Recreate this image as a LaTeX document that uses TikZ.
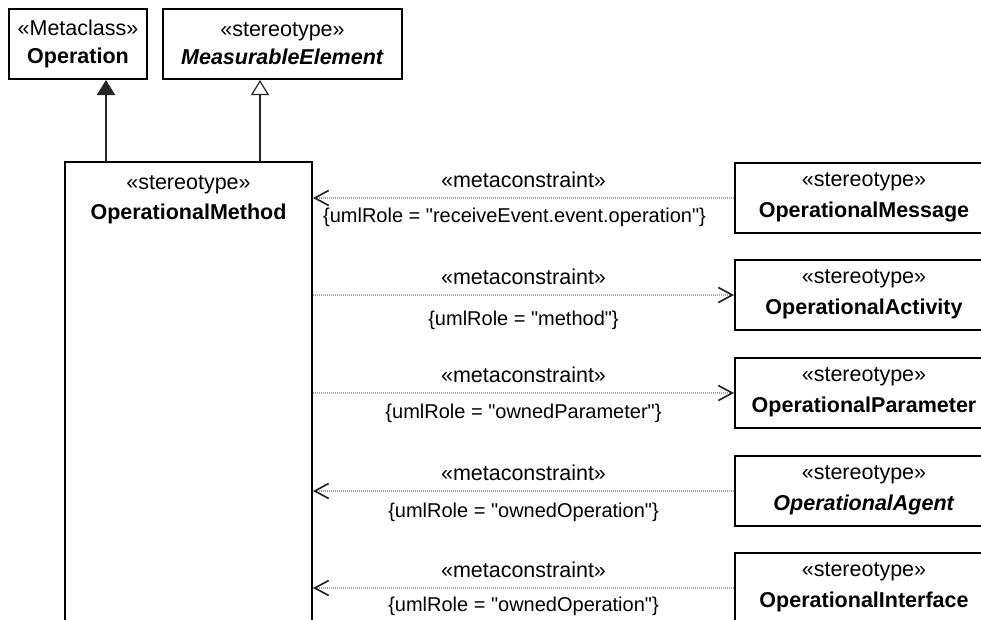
\documentclass[tikz,border=0pt]{standalone}
\usepackage{fontspec}
\setmainfont{Liberation Sans}[Ligatures=TeXOff]
\usetikzlibrary{arrows.meta}
\begin{document}
\begin{tikzpicture}[x=1pt,y=-1pt,
  txt/.style={font=\fontsize{21.5}{28}\selectfont, align=center, inner sep=0pt},
  txtw/.style={font=\fontsize{21.5}{31}\selectfont, align=center, inner sep=0pt},
  cls/.style={draw=black, line width=2pt, fill=white, inner sep=0pt},
  dep/.style={draw=gray!70, line width=1.2pt, dash pattern=on 1pt off 1pt},
  barb/.style={-{Straight Barb[length=14pt,width=15pt,line width=1.6pt,color=gray!25!black]}},
  gen/.style={draw=gray!30!black, line width=2pt},
  genfilled/.style={-{Triangle[length=15pt,width=18pt,fill=gray!30!black]}},
  genopen/.style={-{Triangle[open,length=15pt,width=18pt,fill=white,line width=1.2pt]}},
  lbl/.style={txt},
  cons/.style={font=\fontsize{20}{24}\selectfont, inner sep=0pt}
]
\useasboundingbox (0,0) rectangle (981,619);
\clip (0,0) rectangle (981,619);
\fill[white] (0,0) rectangle (981,619);

% top boxes
\node[cls, minimum width=138pt, minimum height=70pt] (op) at (78,44) {};
\node[txt] (opt) at (op.center) {«Metaclass»\\\textbf{Operation}};
\node[cls, minimum width=239pt, minimum height=70pt] (me) at (282.5,44) {};
\node[txt] (met) at (me.center) {«stereotype»\\\textbf{\itshape MeasurableElement}};

% OperationalMethod
\node[cls, minimum width=247pt, minimum height=488pt] (om) at (188.5,406) {};
\node[font=\fontsize{21.5}{30}\selectfont, align=center, inner sep=0pt] (omt) at (188.5,200) {«stereotype»\\\textbf{OperationalMethod}};

% right boxes
\node[cls, minimum width=258pt, minimum height=70pt] (msg) at (864,198) {};
\node[txtw] (msgt) at ([yshift=1pt]msg.center) {«stereotype»\\\textbf{OperationalMessage}};
\node[cls, minimum width=258pt, minimum height=70pt] (act) at (864,295) {};
\node[txtw] (actt) at ([yshift=1pt]act.center) {«stereotype»\\\textbf{OperationalActivity}};
\node[cls, minimum width=258pt, minimum height=70pt] (par) at (864,393) {};
\node[txtw] (part) at ([yshift=1pt]par.center) {«stereotype»\\\textbf{OperationalParameter}};
\node[cls, minimum width=258pt, minimum height=70pt] (agt) at (864,491) {};
\node[txtw] (agtt) at ([yshift=1pt]agt.center) {«stereotype»\\\textbf{\itshape OperationalAgent}};
\node[cls, minimum width=258pt, minimum height=70pt] (itf) at (864,588) {};
\node[txtw] (itft) at ([yshift=1pt]itf.center) {«stereotype»\\\textbf{OperationalInterface}};

% generalizations
\coordinate (g1) at (106,162);
\coordinate (g2) at (260,162);
\draw[gen, genfilled] (g1) -- (g1 |- op.south);
\draw[gen, genopen] (g2) -- (g2 |- me.south);

% metaconstraints
\draw[dep, barb] (msg.west) -- (msg.west -| om.east)
  node[midway, lbl, yshift=18pt] (l1a) {«metaconstraint»}
  node[midway, cons, yshift=-19pt, xshift=-9pt] (l1b) {\{umlRole = "receiveEvent.event.operation"\}};
\draw[dep, barb] (act.west -| om.east) -- (act.west)
  node[midway, lbl, yshift=18pt] (l2a) {«metaconstraint»}
  node[midway, cons, yshift=-25pt] (l2b) {\{umlRole = "method"\}};
\draw[dep, barb] (par.west -| om.east) -- (par.west)
  node[midway, lbl, yshift=18pt] (l3a) {«metaconstraint»}
  node[midway, cons, yshift=-20pt] (l3b) {\{umlRole = "ownedParameter"\}};
\draw[dep, barb] (agt.west) -- (agt.west -| om.east)
  node[midway, lbl, yshift=18pt] (l4a) {«metaconstraint»}
  node[midway, cons, yshift=-21pt] (l4b) {\{umlRole = "ownedOperation"\}};
\draw[dep, barb] (itf.west) -- (itf.west -| om.east)
  node[midway, lbl, yshift=18pt] (l5a) {«metaconstraint»}
  node[midway, cons, yshift=-18pt] (l5b) {\{umlRole = "ownedOperation"\}};
\end{tikzpicture}
\end{document}
